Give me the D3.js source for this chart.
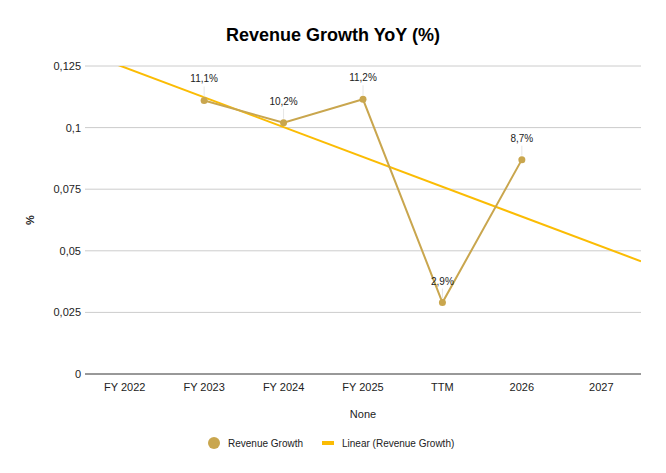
<!DOCTYPE html>
<meta charset="utf-8">
<head>
<title>Revenue Growth YoY</title>
<script src="https://cdn.jsdelivr.net/npm/d3@7"></script>
<style>
  body { margin: 0; background: #fff; }
  text { font-family: "Liberation Sans", Arial, sans-serif; }
</style>
</head>
<body>

<div id="chart"></div>

<script>

const width = 666;
const height = 473;

// categories along the x axis
const categories = ['FY 2022', 'FY 2023', 'FY 2024', 'FY 2025', 'TTM', '2026', '2027'];
// revenue growth per category (null = no value)
const growth = [null, 0.111, 0.102, 0.1115, 0.029, 0.087, null];
const growthLabels = [null, '11,1%', '10,2%', '11,2%', '2,9%', '8,7%', null];
const yTicks = [0, 0.025, 0.05, 0.075, 0.1, 0.125];
const yTickLabels = ['0', '0,025', '0,05', '0,075', '0,1', '0,125'];

const margin = {top: 66, right: 25, bottom: 99, left: 85};

const pointColor = '#c9a64e';
const trendColor = '#fbbc04';

const svg = d3.select('#chart')
  .append('svg')
  .attr('width', width)
  .attr('height', height)
  .attr('viewBox', [0, 0, width, height]);

const x = d3.scaleBand()
  .domain(categories)
  .range([margin.left, width - margin.right]);

const y = d3.scaleLinear()
  .domain([0, 0.125])
  .range([height - margin.bottom, margin.top]);

const cx = c => x(c) + x.bandwidth() / 2;

// title
svg.append('text')
  .attr('x', width / 2)
  .attr('y', 41)
  .attr('text-anchor', 'middle')
  .style('font-size', '18px')
  .style('font-weight', 'bold')
  .attr('fill', '#000')
  .text('Revenue Growth YoY (%)');

// gridlines
svg.append('g')
  .selectAll('line')
  .data(yTicks.filter(d => d > 0))
  .join('line')
    .attr('x1', margin.left)
    .attr('x2', width - margin.right)
    .attr('y1', d => y(d))
    .attr('y2', d => y(d))
    .attr('stroke', '#cccccc')
    .attr('stroke-width', 1);

// y axis labels
svg.append('g')
  .style('font-size', '11px')
  .selectAll('text')
  .data(yTicks)
  .join('text')
    .attr('x', margin.left - 4)
    .attr('y', d => y(d) + 4)
    .attr('text-anchor', 'end')
    .attr('fill', '#222')
    .text((d, i) => yTickLabels[i]);

// baseline
svg.append('line')
  .attr('x1', margin.left)
  .attr('x2', width - margin.right)
  .attr('y1', y(0))
  .attr('y2', y(0))
  .attr('stroke', '#333')
  .attr('stroke-width', 1);

// x axis labels
svg.append('g')
  .style('font-size', '11px')
  .selectAll('text')
  .data(categories)
  .join('text')
    .attr('x', d => cx(d))
    .attr('y', y(0) + 17)
    .attr('text-anchor', 'middle')
    .attr('fill', '#222')
    .text(d => d);

// axis titles
svg.append('text')
  .attr('x', (margin.left + width - margin.right) / 2)
  .attr('y', 418)
  .attr('text-anchor', 'middle')
  .style('font-size', '11px')
  .attr('fill', '#222')
  .text('None');

svg.append('text')
  .attr('transform', `translate(34, ${(margin.top + height - margin.bottom) / 2}) rotate(-90)`)
  .attr('text-anchor', 'middle')
  .style('font-size', '11px')
  .style('font-weight', 'bold')
  .attr('fill', '#222')
  .text('%');

// points with values
const pts = categories
  .map((c, i) => ({cat: c, i: i, v: growth[i], label: growthLabels[i]}))
  .filter(d => d.v != null);

// linear trend (least squares over category index)
const mx = d3.mean(pts, d => d.i);
const my = d3.mean(pts, d => d.v);
const slope = d3.sum(pts, d => (d.i - mx) * (d.v - my)) / d3.sum(pts, d => (d.i - mx) ** 2);
const icpt = my - slope * mx;

// map pixel x back to fractional category index
const xIndex = px => (px - cx(categories[0])) / x.step();

svg.append('clipPath')
  .attr('id', 'plot')
  .append('rect')
  .attr('x', margin.left)
  .attr('y', margin.top)
  .attr('width', width - margin.left - margin.right)
  .attr('height', height - margin.top - margin.bottom);

const xs = [margin.left, width - margin.right];
svg.append('line')
  .attr('clip-path', 'url(#plot)')
  .attr('x1', xs[0])
  .attr('x2', xs[1])
  .attr('y1', y(icpt + slope * xIndex(xs[0])))
  .attr('y2', y(icpt + slope * xIndex(xs[1])))
  .attr('stroke', trendColor)
  .attr('stroke-width', 2);

// series line
svg.append('path')
  .datum(pts)
  .attr('fill', 'none')
  .attr('stroke', pointColor)
  .attr('stroke-width', 2)
  .attr('d', d3.line().x(d => cx(d.cat)).y(d => y(d.v)));

// leader lines for data labels
svg.append('g')
  .selectAll('line')
  .data(pts)
  .join('line')
    .attr('x1', d => cx(d.cat))
    .attr('x2', d => cx(d.cat))
    .attr('y1', d => y(d.v) - 4)
    .attr('y2', d => y(d.v) - 14)
    .attr('stroke', '#e6e6e6')
    .attr('stroke-width', 1);

svg.append('g')
  .selectAll('circle')
  .data(pts)
  .join('circle')
    .attr('cx', d => cx(d.cat))
    .attr('cy', d => y(d.v))
    .attr('r', 3.5)
    .attr('fill', pointColor);

svg.append('g')
  .style('font-size', '10px')
  .selectAll('text')
  .data(pts)
  .join('text')
    .attr('x', d => cx(d.cat))
    .attr('y', d => y(d.v) - 18)
    .attr('text-anchor', 'middle')
    .attr('fill', '#222')
    .text(d => d.label);

// legend
const lg = svg.append('g').style('font-size', '10px');
lg.append('circle')
  .attr('cx', 214)
  .attr('cy', 443)
  .attr('r', 6)
  .attr('fill', pointColor);
lg.append('text')
  .attr('x', 228)
  .attr('y', 446.5)
  .attr('fill', '#222')
  .text('Revenue Growth');
lg.append('line')
  .attr('x1', 322)
  .attr('x2', 334)
  .attr('y1', 443)
  .attr('y2', 443)
  .attr('stroke', trendColor)
  .attr('stroke-width', 4);
lg.append('text')
  .attr('x', 342)
  .attr('y', 446.5)
  .attr('fill', '#222')
  .text('Linear (Revenue Growth)');

</script>

</body>
